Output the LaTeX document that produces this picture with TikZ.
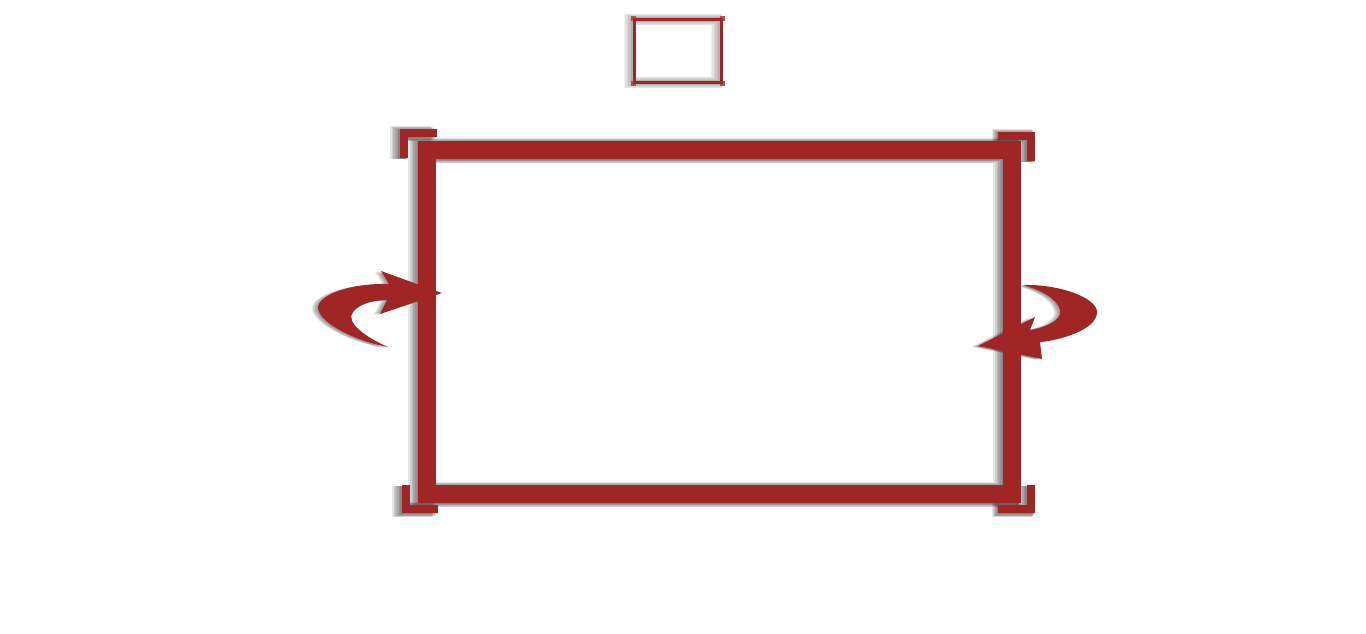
\documentclass[tikz,border=0pt]{standalone}
\definecolor{screenred}{RGB}{160,38,38}
\begin{document}
\begin{tikzpicture}[x=0.02cm, y=-0.02cm, line join=miter,
  frameline/.style={draw=screenred, line width=10pt},
  cornerline/.style={draw=screenred, line width=4.5pt},
  shade/.style={draw=black, opacity=0.1}]
\useasboundingbox (0,0) rectangle (1366,633);

% shadows
\foreach \d in {1,...,6} {
  \draw[shade, line width=10pt+0.7*\d pt, xshift=-\d*0.6pt, yshift=-0.4pt] (427,150) rectangle (1012,494);
  \draw[shade, line width=4.5pt+0.7*\d pt, xshift=-\d*0.6pt, yshift=-0.4pt] (437,133) -- (404,133) -- (404,158);
  \draw[shade, line width=4.5pt+0.7*\d pt, xshift=-\d*0.6pt, yshift=-0.4pt] (998,136) -- (1031,136) -- (1031,161);
  \draw[shade, line width=4.5pt+0.7*\d pt, xshift=-\d*0.6pt, yshift=-0.4pt] (406,485) -- (406,509) -- (438,509);
  \draw[shade, line width=4.5pt+0.7*\d pt, xshift=-\d*0.6pt, yshift=-0.4pt] (1031,485) -- (1031,509) -- (998,509);
  \draw[shade, opacity=0.06, line width=1.7pt+0.8*\d pt, xshift=-\d*0.5pt] (634.5,19.5) rectangle (721.5,82.5);
  \fill[black, opacity=0.08, xshift=-\d*0.6pt, yshift=-0.4pt]
    (442,293) -- (381,271) -- (389,284) .. controls (350,283) and (318,295) .. (318,308)
    .. controls (320,325) and (360,342) .. (388,347) .. controls (365,337) and (345,322) .. (353,312)
    .. controls (360,303) and (375,300) .. (387,300) -- (380,314) -- cycle;
  \fill[black, opacity=0.08, xshift=-\d*0.6pt, yshift=-0.4pt]
    (978,346) -- (1035,317) -- (1030,330) .. controls (1052,326) and (1062,318) .. (1060,310)
    .. controls (1057,298) and (1040,290) .. (1023,285) .. controls (1060,284) and (1097,298) .. (1097,312)
    .. controls (1097,330) and (1060,340) .. (1040,342) -- (1042,359) -- cycle;
}

% big screen
\draw[frameline] (427,150) rectangle (1012,494);
\draw[cornerline] (437,133) -- (404,133) -- (404,158);
\draw[cornerline] (998,136) -- (1031,136) -- (1031,161);
\draw[cornerline] (406,485) -- (406,509) -- (438,509);
\draw[cornerline] (1031,485) -- (1031,509) -- (998,509);

% small screen
\draw[screenred, line width=1.7pt] (634.5,19.5) rectangle (721.5,82.5);
\draw[screenred!80, line width=0.6pt] (636,17) -- (632,17) -- (632,21);
\draw[screenred!80, line width=0.6pt] (720,17) -- (724,17) -- (724,21);
\draw[screenred!80, line width=0.6pt] (632,81) -- (632,85) -- (636,85);
\draw[screenred!80, line width=0.6pt] (724,81) -- (724,85) -- (720,85);

% arrows
\fill[screenred]
  (442,293) -- (381,271) -- (389,284) .. controls (350,283) and (318,295) .. (318,308)
  .. controls (320,325) and (360,342) .. (388,347) .. controls (365,337) and (345,322) .. (353,312)
  .. controls (360,303) and (375,300) .. (387,300) -- (380,314) -- cycle;
\fill[screenred]
  (978,346) -- (1035,317) -- (1030,330) .. controls (1052,326) and (1062,318) .. (1060,310)
  .. controls (1057,298) and (1040,290) .. (1023,285) .. controls (1060,284) and (1097,298) .. (1097,312)
  .. controls (1097,330) and (1060,340) .. (1040,342) -- (1042,359) -- cycle;
\end{tikzpicture}
\end{document}
